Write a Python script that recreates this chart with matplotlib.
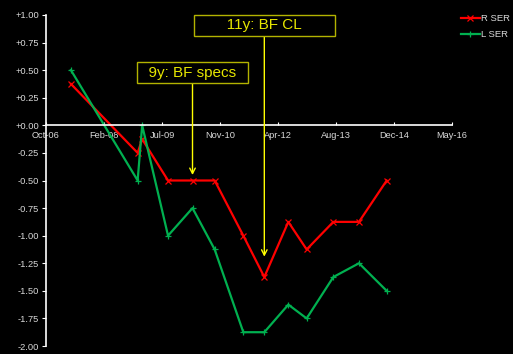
import matplotlib
matplotlib.use("Agg")
import matplotlib.pyplot as plt
import matplotlib.dates as mdates
import pandas as pd
from matplotlib.ticker import FixedLocator, FuncFormatter

# series
dates = pd.to_datetime(['2007-05-13', '2008-12-08', '2009-01-16', '2009-08-27', '2010-03-26',
                        '2010-10-03', '2011-06-07', '2011-12-05', '2012-06-29', '2012-12-04',
                        '2013-07-22', '2014-02-28', '2014-10-25'])
r_ser = [0.375, -0.25, -0.125, -0.5, -0.5, -0.5, -1.0, -1.375, -0.875, -1.125, -0.875, -0.875, -0.5]
l_ser = [0.5, -0.5, 0.0, -1.0, -0.75, -1.125, -1.875, -1.875, -1.625, -1.75, -1.375, -1.25, -1.5]

x_ticks = pd.date_range('2006-10-10', periods=8, freq='500D')
y_ticks = [1.0, 0.75, 0.5, 0.25, 0.0, -0.25, -0.5, -0.75, -1.0, -1.25, -1.5, -1.75, -2.0]

notes = [("  9y: BF specs  ", pd.Timestamp('2010-03-26'), -0.45, 0.478),
         ("       11y: BF CL       ", pd.Timestamp('2011-12-05'), -1.19, 0.905)]

plt.rcParams['font.family'] = ['Liberation Sans', 'DejaVu Sans']
txt_col = '#d9d9d9'

fig = plt.figure(figsize=(5.13, 3.54), dpi=100, facecolor='black')
ax = fig.add_axes([46 / 513, 1 - 346 / 354, 406 / 513, 331 / 354])
ax.set_facecolor('black')

ax.plot(dates, r_ser, color='#ff0000', lw=1.6, marker='x', ms=4, mew=0.9, label='R SER')
ax.plot(dates, l_ser, color='#00b050', lw=1.6, marker='+', ms=4, mew=0.9, label='L SER')

ax.set_xlim(x_ticks[0], x_ticks[-1])
ax.set_ylim(-2.0, 1.0)

ax.spines['bottom'].set_position(('data', 0))
for s in ['top', 'right']:
    ax.spines[s].set_visible(False)
for s in ['bottom', 'left']:
    ax.spines[s].set_color('white')
    ax.spines[s].set_linewidth(1.2)

ax.xaxis.set_major_locator(FixedLocator(mdates.date2num(x_ticks)))
ax.xaxis.set_major_formatter(mdates.DateFormatter('%b-%y'))
ax.yaxis.set_major_locator(FixedLocator(y_ticks))
ax.yaxis.set_major_formatter(FuncFormatter(lambda v, p: f"{v:+.2f}"))
ax.tick_params(axis='x', direction='in', length=2.5, colors='white', labelcolor=txt_col,
               labelsize=6.7, pad=4)
ax.tick_params(axis='y', direction='out', length=3, colors='white', labelcolor=txt_col,
               labelsize=6.7, pad=2)

for label, xd, tip, boxy in notes:
    ax.annotate(label, xy=(xd, tip), xytext=(xd, boxy), ha='center', va='center',
                fontsize=11, color='#e6e600',
                bbox=dict(boxstyle='square,pad=0.22', fc='black', ec='#b3b300', lw=1),
                arrowprops=dict(arrowstyle='->,head_length=0.35,head_width=0.18',
                                color='#ffff00', lw=1, shrinkA=0, shrinkB=0))

leg = fig.legend(loc='upper left', bbox_to_anchor=(461 / 513, 1 - 14 / 354), frameon=False,
                 fontsize=6.8, handlelength=2.0, handletextpad=0.1, labelspacing=0.75,
                 borderaxespad=0, borderpad=0)
for t in leg.get_texts():
    t.set_color(txt_col)

fig.savefig('out.png', dpi=100, facecolor='black')
